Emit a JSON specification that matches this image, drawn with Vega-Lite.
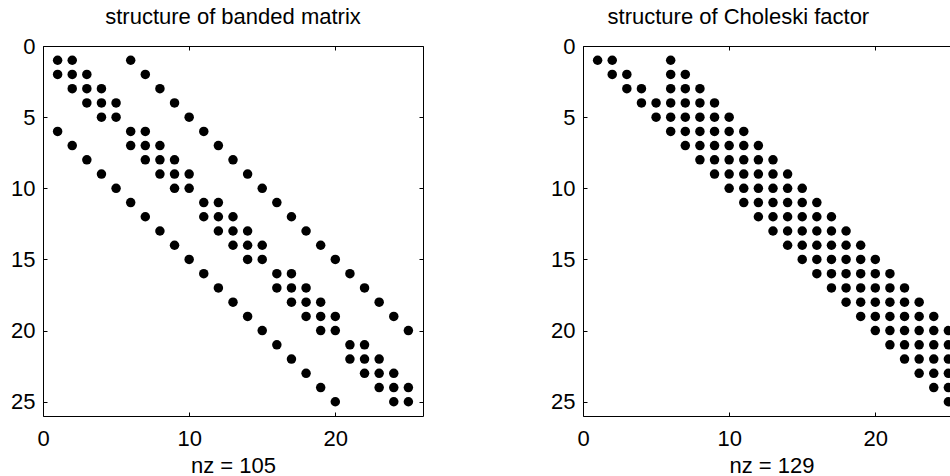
{
  "$schema": "https://vega.github.io/schema/vega-lite/v6.json",
  "padding": {"left": 10, "top": 6, "right": 0, "bottom": 0},
  "spacing": 126,
  "background": "white",
  "datasets": {
    "A": [
      {"r":1,"c":1},{"r":1,"c":2},{"r":1,"c":6},
      {"r":2,"c":1},{"r":2,"c":2},{"r":2,"c":3},{"r":2,"c":7},
      {"r":3,"c":2},{"r":3,"c":3},{"r":3,"c":4},{"r":3,"c":8},
      {"r":4,"c":3},{"r":4,"c":4},{"r":4,"c":5},{"r":4,"c":9},
      {"r":5,"c":4},{"r":5,"c":5},{"r":5,"c":10},
      {"r":6,"c":1},{"r":6,"c":6},{"r":6,"c":7},{"r":6,"c":11},
      {"r":7,"c":2},{"r":7,"c":6},{"r":7,"c":7},{"r":7,"c":8},{"r":7,"c":12},
      {"r":8,"c":3},{"r":8,"c":7},{"r":8,"c":8},{"r":8,"c":9},{"r":8,"c":13},
      {"r":9,"c":4},{"r":9,"c":8},{"r":9,"c":9},{"r":9,"c":10},{"r":9,"c":14},
      {"r":10,"c":5},{"r":10,"c":9},{"r":10,"c":10},{"r":10,"c":15},
      {"r":11,"c":6},{"r":11,"c":11},{"r":11,"c":12},{"r":11,"c":16},
      {"r":12,"c":7},{"r":12,"c":11},{"r":12,"c":12},{"r":12,"c":13},{"r":12,"c":17},
      {"r":13,"c":8},{"r":13,"c":12},{"r":13,"c":13},{"r":13,"c":14},{"r":13,"c":18},
      {"r":14,"c":9},{"r":14,"c":13},{"r":14,"c":14},{"r":14,"c":15},{"r":14,"c":19},
      {"r":15,"c":10},{"r":15,"c":14},{"r":15,"c":15},{"r":15,"c":20},
      {"r":16,"c":11},{"r":16,"c":16},{"r":16,"c":17},{"r":16,"c":21},
      {"r":17,"c":12},{"r":17,"c":16},{"r":17,"c":17},{"r":17,"c":18},{"r":17,"c":22},
      {"r":18,"c":13},{"r":18,"c":17},{"r":18,"c":18},{"r":18,"c":19},{"r":18,"c":23},
      {"r":19,"c":14},{"r":19,"c":18},{"r":19,"c":19},{"r":19,"c":20},{"r":19,"c":24},
      {"r":20,"c":15},{"r":20,"c":19},{"r":20,"c":20},{"r":20,"c":25},
      {"r":21,"c":16},{"r":21,"c":21},{"r":21,"c":22},
      {"r":22,"c":17},{"r":22,"c":21},{"r":22,"c":22},{"r":22,"c":23},
      {"r":23,"c":18},{"r":23,"c":22},{"r":23,"c":23},{"r":23,"c":24},
      {"r":24,"c":19},{"r":24,"c":23},{"r":24,"c":24},{"r":24,"c":25},
      {"r":25,"c":20},{"r":25,"c":24},{"r":25,"c":25}
    ],
    "R": [
      {"r":1,"c":1},{"r":1,"c":2},{"r":1,"c":6},
      {"r":2,"c":2},{"r":2,"c":3},{"r":2,"c":6},{"r":2,"c":7},
      {"r":3,"c":3},{"r":3,"c":4},{"r":3,"c":6},{"r":3,"c":7},{"r":3,"c":8},
      {"r":4,"c":4},{"r":4,"c":5},{"r":4,"c":6},{"r":4,"c":7},{"r":4,"c":8},{"r":4,"c":9},
      {"r":5,"c":5},{"r":5,"c":6},{"r":5,"c":7},{"r":5,"c":8},{"r":5,"c":9},{"r":5,"c":10},
      {"r":6,"c":6},{"r":6,"c":7},{"r":6,"c":8},{"r":6,"c":9},{"r":6,"c":10},{"r":6,"c":11},
      {"r":7,"c":7},{"r":7,"c":8},{"r":7,"c":9},{"r":7,"c":10},{"r":7,"c":11},{"r":7,"c":12},
      {"r":8,"c":8},{"r":8,"c":9},{"r":8,"c":10},{"r":8,"c":11},{"r":8,"c":12},{"r":8,"c":13},
      {"r":9,"c":9},{"r":9,"c":10},{"r":9,"c":11},{"r":9,"c":12},{"r":9,"c":13},{"r":9,"c":14},
      {"r":10,"c":10},{"r":10,"c":11},{"r":10,"c":12},{"r":10,"c":13},{"r":10,"c":14},{"r":10,"c":15},
      {"r":11,"c":11},{"r":11,"c":12},{"r":11,"c":13},{"r":11,"c":14},{"r":11,"c":15},{"r":11,"c":16},
      {"r":12,"c":12},{"r":12,"c":13},{"r":12,"c":14},{"r":12,"c":15},{"r":12,"c":16},{"r":12,"c":17},
      {"r":13,"c":13},{"r":13,"c":14},{"r":13,"c":15},{"r":13,"c":16},{"r":13,"c":17},{"r":13,"c":18},
      {"r":14,"c":14},{"r":14,"c":15},{"r":14,"c":16},{"r":14,"c":17},{"r":14,"c":18},{"r":14,"c":19},
      {"r":15,"c":15},{"r":15,"c":16},{"r":15,"c":17},{"r":15,"c":18},{"r":15,"c":19},{"r":15,"c":20},
      {"r":16,"c":16},{"r":16,"c":17},{"r":16,"c":18},{"r":16,"c":19},{"r":16,"c":20},{"r":16,"c":21},
      {"r":17,"c":17},{"r":17,"c":18},{"r":17,"c":19},{"r":17,"c":20},{"r":17,"c":21},{"r":17,"c":22},
      {"r":18,"c":18},{"r":18,"c":19},{"r":18,"c":20},{"r":18,"c":21},{"r":18,"c":22},{"r":18,"c":23},
      {"r":19,"c":19},{"r":19,"c":20},{"r":19,"c":21},{"r":19,"c":22},{"r":19,"c":23},{"r":19,"c":24},
      {"r":20,"c":20},{"r":20,"c":21},{"r":20,"c":22},{"r":20,"c":23},{"r":20,"c":24},{"r":20,"c":25},
      {"r":21,"c":21},{"r":21,"c":22},{"r":21,"c":23},{"r":21,"c":24},{"r":21,"c":25},
      {"r":22,"c":22},{"r":22,"c":23},{"r":22,"c":24},{"r":22,"c":25},
      {"r":23,"c":23},{"r":23,"c":24},{"r":23,"c":25},
      {"r":24,"c":24},{"r":24,"c":25},
      {"r":25,"c":25}
    ]
  },
  "hconcat": [
    {
      "width": 380,
      "height": 370,
      "title": {"text": "structure of banded matrix", "offset": 6},
      "layer": [
        {
          "data": {"name": "A"},
          "mark": {"type": "point", "filled": true, "shape": "circle", "size": 90, "color": "black", "opacity": 1},
          "encoding": {
            "x": {"field": "c", "type": "quantitative", "scale": {"domain": [0, 26], "nice": false},
                  "axis": {"orient": "bottom", "values": [0, 10, 20], "title": "nz = 105", "labelPadding": 16}},
            "y": {"field": "r", "type": "quantitative", "scale": {"domain": [0, 26], "nice": false, "reverse": true},
                  "axis": {"orient": "left", "values": [0, 5, 10, 15, 20, 25], "title": null}}
          }
        },
        {
          "data": {"name": "A"},
          "mark": {"type": "point", "opacity": 0},
          "encoding": {
            "x": {"field": "c", "type": "quantitative", "scale": {"domain": [0, 26], "nice": false},
                  "axis": {"orient": "top", "values": [0, 10, 20], "labels": false, "title": null}},
            "y": {"field": "r", "type": "quantitative", "scale": {"domain": [0, 26], "nice": false, "reverse": true},
                  "axis": {"orient": "right", "values": [0, 5, 10, 15, 20, 25], "labels": false, "title": null}}
          }
        }
      ],
      "resolve": {"axis": {"x": "independent", "y": "independent"}}
    },
    {
      "width": 368,
      "height": 370,
      "title": {"text": "structure of Choleski factor", "offset": 6, "anchor": "start", "dx": 57},
      "layer": [
        {
          "data": {"name": "R"},
          "mark": {"type": "point", "filled": true, "shape": "circle", "size": 90, "color": "black", "opacity": 1, "clip": true},
          "encoding": {
            "x": {"field": "c", "type": "quantitative", "scale": {"domain": [0, 25.179], "nice": false},
                  "axis": {"orient": "bottom", "values": [0, 10, 20], "title": "nz = 129", "titleAnchor": "start", "titleX": 146, "labelPadding": 16}},
            "y": {"field": "r", "type": "quantitative", "scale": {"domain": [0, 26], "nice": false, "reverse": true},
                  "axis": {"orient": "left", "values": [0, 5, 10, 15, 20, 25], "title": null}}
          }
        },
        {
          "data": {"name": "R"},
          "mark": {"type": "point", "opacity": 0, "clip": true},
          "encoding": {
            "x": {"field": "c", "type": "quantitative", "scale": {"domain": [0, 25.179], "nice": false},
                  "axis": {"orient": "top", "values": [0, 10, 20], "labels": false, "title": null}},
            "y": {"field": "r", "type": "quantitative", "scale": {"domain": [0, 26], "nice": false, "reverse": true}}
          }
        }
      ],
      "resolve": {"axis": {"x": "independent"}}
    }
  ],
  "config": {
    "font": "Liberation Sans",
    "view": {"stroke": null},
    "axis": {
      "grid": false,
      "labelFontSize": 22,
      "titleFontSize": 22,
      "titleFontWeight": "normal",
      "labelColor": "black",
      "titleColor": "black",
      "domainColor": "black",
      "domainWidth": 1,
      "tickColor": "black",
      "tickSize": -4,
      "labelPadding": 12,
      "labelFlush": false,
      "titlePadding": 6
    },
    "title": {"fontSize": 22, "fontWeight": "normal", "color": "black"}
  }
}
